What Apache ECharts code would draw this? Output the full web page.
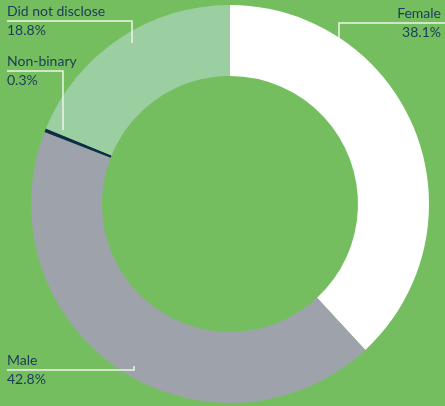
<!DOCTYPE html>
<html>
<head>
<meta charset="utf-8">
<script src="https://cdn.jsdelivr.net/npm/echarts@6/dist/echarts.min.js"></script>
<style>
  html, body { margin: 0; padding: 0; background: #74be5f; }
  #chart { width: 445px; height: 406px; }
</style>
</head>
<body>
<div id="chart"></div>
<script>
// Gender breakdown (percent of respondents)
const categories = ['Female', 'Male', 'Non-binary', 'Did not disclose'];
const shares = [38.1, 42.8, 0.3, 18.8];
const sliceColors = ['#ffffff', '#9ea3ab', '#0f2b4a', '#9bcfa1'];

// Label anchor and leader-line layout per slice
const labelSpots = [
  { x: 441, y: 23, align: 'right', line: [[339, 38], [339, 23], [445, 23]] },
  { x: 7, y: 370, align: 'left', line: [[134, 366], [134, 370], [7, 370]] },
  { x: 7, y: 71, align: 'left', line: [[63, 130], [63, 71], [7, 71]] },
  { x: 7, y: 21, align: 'left', line: [[132, 43], [132, 21], [7, 21]] }
];

const textColor = '#1d3a5a';
const fontFace = 'Lato';

const chart = echarts.init(document.getElementById('chart'));
chart.setOption({
  backgroundColor: '#74be5f',
  animation: false,
  // leader lines sit on top of the ring
  graphic: labelSpots.map(s => ({
    type: 'polyline',
    z: 100,
    silent: true,
    shape: { points: s.line },
    style: { stroke: '#eef5ea', lineWidth: 1.5, fill: null }
  })),
  series: [{
    type: 'pie',
    center: [230, 204],
    radius: [128, 199],
    startAngle: 90,
    clockwise: true,
    avoidLabelOverlap: false,
    itemStyle: { borderWidth: 0 },
    emphasis: { disabled: true },
    data: categories.map((name, i) => ({
      name: name,
      value: shares[i],
      itemStyle: { color: sliceColors[i] }
    })),
    label: {
      show: true,
      formatter: '{n|{b}}\n{v|{c}%}',
      fontFamily: fontFace,
      color: textColor,
      rich: {
        n: { fontSize: 14, lineHeight: 19, color: textColor, fontFamily: fontFace },
        v: { fontSize: 14, lineHeight: 19, color: textColor, fontFamily: fontFace }
      }
    },
    labelLine: { show: false },
    labelLayout: function (params) {
      const s = labelSpots[params.dataIndex];
      return {
        x: s.x,
        y: s.y,
        align: s.align,
        verticalAlign: 'middle'
      };
    }
  }]
});
</script>
</body>
</html>
